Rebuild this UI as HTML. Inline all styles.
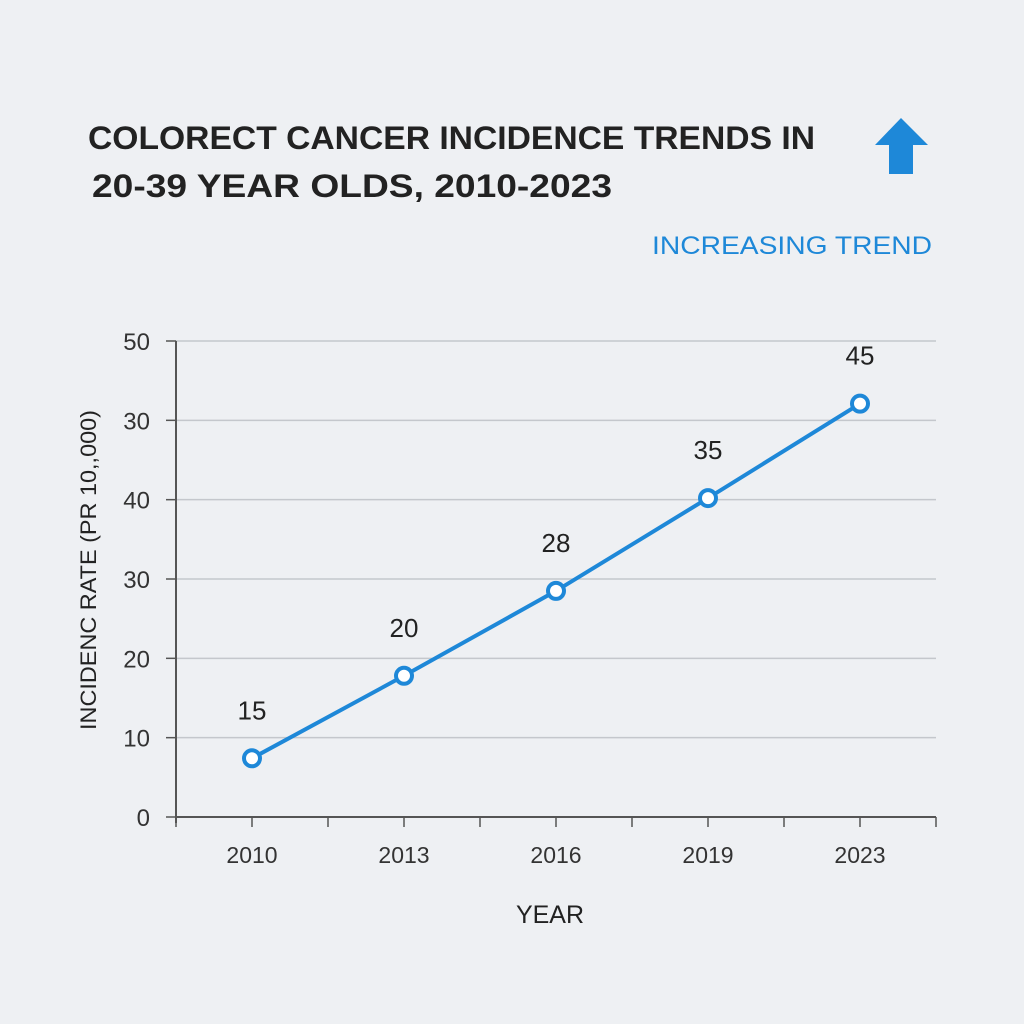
<!DOCTYPE html>
<html><head><meta charset="utf-8"><style>
body{margin:0;background:#eef0f3;}
svg{display:block;font-family:"Liberation Sans",sans-serif;}
</style></head><body>
<svg id="chart" width="1024" height="1024" viewBox="0 0 1024 1024">
<rect width="1024" height="1024" fill="#eef0f3"/>
<text x="88" y="149" font-size="32" font-weight="bold" fill="#222" textLength="727" lengthAdjust="spacingAndGlyphs">COLORECT CANCER INCIDENCE TRENDS IN</text>
<text x="92" y="197" font-size="32" font-weight="bold" fill="#222" textLength="520" lengthAdjust="spacingAndGlyphs">20-39 YEAR OLDS, 2010-2023</text>
<polygon points="901,118 928,145 913,145 913,174 889,174 889,145 875,145" fill="#1e88d8"/>
<text x="652" y="254" font-size="25" fill="#1e88d8" textLength="280" lengthAdjust="spacingAndGlyphs">INCREASING TREND</text>
<text transform="translate(96,570) rotate(-90)" font-size="22" text-anchor="middle" fill="#222" textLength="320" lengthAdjust="spacingAndGlyphs">INCIDENC RATE (PR 10,,000)</text>
<text x="550" y="923" font-size="25" text-anchor="middle" fill="#222">YEAR</text>
<g id="grid"></g><g id="axes"></g><g id="marks"></g>
</svg>
<script>
const categories=["2010","2013","2016","2019","2023"];
const values=[7.4,17.8,28.5,40.2,52.1];
const pointLabels=["15","20","28","35","45"];
const yTickValues=[0,10,20,30,40,50,60];
const yTickLabels=["0","10","20","30","40","30","50"];
const NS="http://www.w3.org/2000/svg";
const L=176,R=936,T=341,B=817,yMax=60;
const band=(R-L)/categories.length;
const xs=i=>L+(i+0.5)*band;
const ys=v=>B-(v/yMax)*(B-T);
function mk(tag,attrs,parent,text){const e=document.createElementNS(NS,tag);for(const k in attrs)e.setAttribute(k,attrs[k]);if(text!==undefined)e.textContent=text;document.getElementById(parent).appendChild(e);return e;}
yTickValues.forEach((v,i)=>{
  const y=ys(v);
  if(v>0){const g=mk('line',{x1:L,x2:R,y1:y,y2:y,stroke:'#c4c7cc','stroke-width':1.5},'grid');
  
  }
  const t=mk('line',{x1:L-10,x2:L,y1:y,y2:y,stroke:'#555','stroke-width':1.5},'axes');
  
  
  const lb=mk('text',{x:L-26,y:y+9,'font-size':24,'text-anchor':'end',fill:'#333'},'axes',yTickLabels[i]);
  
  
});
const ya=mk('line',{x1:L,x2:L,y1:T,y2:B+6,stroke:'#555','stroke-width':2},'axes');


const xa=mk('line',{x1:L,x2:R,y1:B,y2:B,stroke:'#555','stroke-width':2},'axes');


for(let i=0;i<=categories.length*2;i++){
  const x=L+i*band/2;
  const t=mk('line',{x1:x,x2:x,y1:B,y2:B+10,stroke:'#555','stroke-width':1.5},'axes');
  
  
}
categories.forEach((c,i)=>{
  const lb=mk('text',{x:xs(i),y:B+46,'font-size':23,'text-anchor':'middle',fill:'#333'},'axes',c);
  
  
});
const line=mk('polyline',{points:values.map((v,i)=>xs(i)+','+ys(v)).join(' '),fill:'none',stroke:'#1e88d8','stroke-width':4},'marks');


values.forEach((v,i)=>{
  const p=mk('circle',{cx:xs(i),cy:ys(v),r:8,fill:'#fff',stroke:'#1e88d8','stroke-width':4},'marks');
  
  
  const t=mk('text',{x:xs(i),y:ys(v)-39,'font-size':26,'text-anchor':'middle',fill:'#222'},'marks',pointLabels[i]);
  
  
});
</script>
</body></html>
